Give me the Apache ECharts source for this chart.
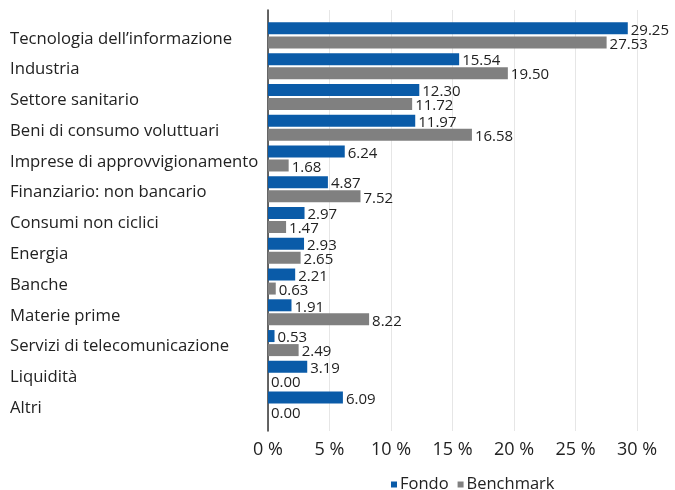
<!DOCTYPE html>
<html><head><meta charset="utf-8">
<script src="https://cdn.jsdelivr.net/npm/echarts@6/dist/echarts.min.js"></script>
<style>html,body{margin:0;padding:0;background:#fff}#c{width:675px;height:490px}</style>
</head><body><div id="c"></div>
<script>
const categories = ["Tecnologia dell\u2019informazione","Industria","Settore sanitario","Beni di consumo voluttuari","Imprese di approvvigionamento","Finanziario: non bancario","Consumi non ciclici","Energia","Banche","Materie prime","Servizi di telecomunicazione","Liquidit\u00e0","Altri"];
const fondo = [29.25,15.54,12.30,11.97,6.24,4.87,2.97,2.93,2.21,1.91,0.53,3.19,6.09];
const benchmark = [27.53,19.50,11.72,16.58,1.68,7.52,1.47,2.65,0.63,8.22,2.49,0.00,0.00];
const xTicks = [0,5,10,15,20,25,30];
const FONT = '"Open Sans", "Noto Sans", sans-serif';
const chart = echarts.init(document.getElementById('c'));
const lbl = {show:true, position:'right', distance:3, offset:[0,2], color:'#222', fontSize:15, fontFamily:FONT, formatter:p=>p.value.toFixed(2)};
chart.setOption({
  animation:false,
  textStyle:{fontFamily:FONT},
  grid:[
    {left:268, right:38, top:20, height:400},
    {left:268, right:38, top:10, height:421}
  ],
  xAxis:[
    {gridIndex:0, type:'value', min:0, max:30, interval:5, show:false},
    {gridIndex:1, type:'value', min:xTicks[0], max:xTicks[xTicks.length-1], interval:5,
     axisLine:{show:false}, axisTick:{show:false},
     splitLine:{show:true, lineStyle:{color:'#e6e6e6', width:1}},
     axisLabel:{color:'#222', fontSize:18, fontFamily:FONT, margin:10, formatter:v=>v+' %'}}
  ],
  yAxis:[
    {gridIndex:0, type:'category', data:categories, inverse:true,
     axisLine:{show:false}, axisTick:{show:false},
     axisLabel:{align:'left', margin:258, color:'#222', fontSize:16.7, fontFamily:FONT,
       formatter:v=>'{a|'+v+'}', rich:{a:{fontSize:16.7, color:'#222', fontFamily:FONT, padding:[7,0,0,0]}}}},
    {gridIndex:1, type:'value', min:0, max:1,
     axisLine:{show:true, lineStyle:{color:'#333', width:1.5}}, axisTick:{show:false},
     axisLabel:{show:false}, splitLine:{show:false}}
  ],
  legend:{top:471, left:386, itemWidth:6, itemHeight:6, itemGap:9, icon:'rect',
    textStyle:{color:'#222', fontSize:16.5, fontFamily:FONT, padding:[3,0,0,-2]},
    data:['Fondo','Benchmark']},
  series:[
    {name:'Fondo', type:'bar', xAxisIndex:0, yAxisIndex:0, data:fondo, barWidth:12, barGap:'17%',
     itemStyle:{color:'#0a5ba8'}, label:lbl},
    {name:'Benchmark', type:'bar', xAxisIndex:0, yAxisIndex:0, data:benchmark, barWidth:12,
     itemStyle:{color:'#808080'}, label:lbl}
  ]
});
</script></body></html>
